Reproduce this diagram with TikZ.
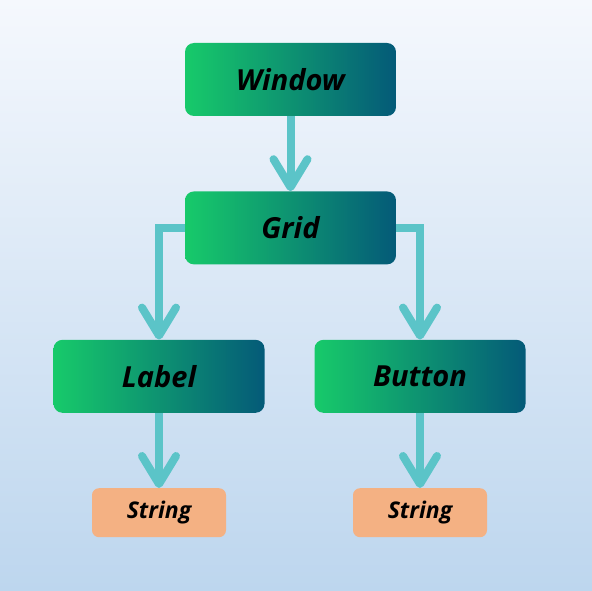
\documentclass[tikz,border=0pt]{standalone}
\usepackage{fontspec}
\setmainfont{Open Sans}
\usetikzlibrary{positioning,arrows.meta}
\definecolor{boxgreen}{HTML}{17CA6A}
\definecolor{boxteal}{HTML}{045A78}
\definecolor{linkcol}{HTML}{5BC4C8}
\definecolor{leafcol}{HTML}{F4B183}
\definecolor{bgtop}{HTML}{F5F8FD}
\definecolor{bgbottom}{HTML}{BDD6EE}
\tikzset{
    class box/.style={
        rounded corners=9pt,
        minimum width=211pt, minimum height=73pt,
        left color=boxgreen, right color=boxteal,
        font=\fontsize{29}{34}\selectfont\bfseries\itshape,
    },
    type box/.style={
        rounded corners=7pt,
        minimum width=134pt, minimum height=49pt,
        fill=leafcol,
        font=\fontsize{23}{27}\selectfont\bfseries\itshape,
    },
    link/.style={
        line width=8pt, draw=linkcol,
        -{Straight Barb[length=28pt,width=34pt,round]},
    }
}

\begin{document}
\begin{tikzpicture}[x=1pt, y=-1pt, node distance=75pt]
    \shade[top color=bgtop, bottom color=bgbottom] (0,0) rectangle (592,591);
    \useasboundingbox (0,0) rectangle (592,591);

    \node[class box] (window) at (290.5,79.5) {Window};
    \node[class box, below=of window] (grid) {Grid};
    \node[class box, below=of grid, xshift=-131.5pt] (label) {Label};
    \node[class box, below=of grid, xshift=129.5pt] (button) {Button};
    \node[type box, below=of label] (labelstr) {String};
    \node[type box, below=of button] (buttonstr) {String};

    \draw[link] (window) -- (grid);
    \draw[link] (grid.west) -| (label.north);
    \draw[link] (grid.east) -| (button.north);
    \draw[link] (label) -- (labelstr);
    \draw[link] (button) -- (buttonstr);
\end{tikzpicture}
\end{document}
